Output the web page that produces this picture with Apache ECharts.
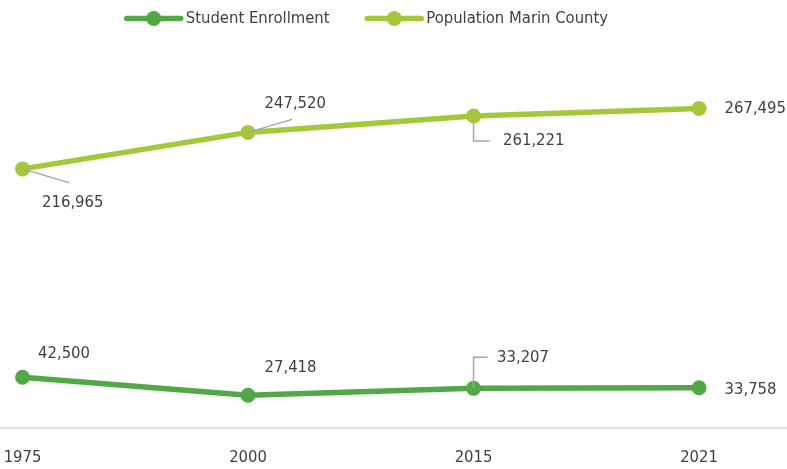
<!DOCTYPE html>
<html>
<head>
<meta charset="utf-8">
<script src="https://cdn.jsdelivr.net/npm/echarts@6/dist/echarts.min.js"></script>
<style>
  html, body { margin: 0; padding: 0; background: #fff; }
  #chart { width: 787px; height: 469px; }
</style>
</head>
<body>
<div id="chart"></div>
<script>
// data
const years = ['1975', '2000', '2015', '2021'];
const enrollment = [42500, 27418, 33207, 33758];
const population = [216965, 247520, 261221, 267495];

// label placement (offsets from the default "right" spot), px
const popLabelShift = [[12, 34], [9, -29], [22, 25], [18, 0]];
const enrLabelShift = [[8, -24], [9, -28], [16, -31], [18, 2]];
// leader lines, relative to the point, px
const popLeaders = [[[0, 0], [47, 14]], [[0, 0], [44, -13]], [[0, 0], [0, 25], [16, 25]], null];
const enrLeaders = [null, null, [[0, 0], [0, -31], [14, -31]], null];

const font = "'DejaVu Sans Condensed', 'Liberation Sans Narrow', sans-serif";
const fontSize = 16.5;
const textColor = '#404040';
const darkGreen = '#52a846';
const lightGreen = '#a5c83a';

const chart = echarts.init(document.getElementById('chart'));

function lineSeries(name, values, color, shifts) {
  return {
    name: name,
    type: 'line',
    data: values.map((v, i) => [i, v]),
    symbol: 'circle',
    symbolSize: 15,
    lineStyle: { color: color, width: 5.5 },
    itemStyle: { color: color },
    label: {
      show: true,
      position: 'right',
      distance: 0,
      color: textColor,
      fontFamily: font,
      fontSize: fontSize,
      formatter: p => p.value[1].toLocaleString('en-US')
    },
    labelLayout: p => ({ dx: shifts[p.dataIndex][0], dy: shifts[p.dataIndex][1] }),
    z: 2
  };
}

function leaderSeries(values, leaders) {
  return {
    type: 'custom',
    silent: true,
    z: 3,
    data: values.map((v, i) => [i, v]),
    renderItem: (params, api) => {
      const seg = leaders[params.dataIndex];
      if (!seg) return;
      const p = api.coord([api.value(0), api.value(1)]);
      return {
        type: 'polyline',
        shape: { points: seg.map(d => [p[0] + d[0], p[1] + d[1]]) },
        style: { stroke: '#a6a6a6', lineWidth: 1.5, fill: null }
      };
    }
  };
}

chart.setOption({
  animation: false,
  textStyle: { fontFamily: font },
  legend: {
    data: ['Student Enrollment', 'Population Marin County'],
    left: 124,
    top: 10,
    padding: 0,
    itemWidth: 54,
    itemHeight: 19,
    itemGap: 35,
    lineStyle: { width: 5.5, cap: 'round' },
    textStyle: { color: textColor, fontFamily: font, fontSize: fontSize }
  },
  grid: { left: 0, right: 0, top: 10, bottom: 41 },
  xAxis: {
    type: 'value',
    min: -0.1,
    max: 3.39,
    splitLine: { show: false },
    axisTick: { show: false },
    axisLine: { show: true, lineStyle: { color: '#d9d9d9', width: 1.5 } },
    axisLabel: {
      customValues: [0, 1, 2, 3],
      formatter: v => years[Math.round(v)],
      color: textColor,
      fontFamily: font,
      fontSize: fontSize,
      margin: 21
    }
  },
  yAxis: {
    type: 'value',
    min: 0,
    max: 350000,
    show: false,
    splitLine: { show: false }
  },
  series: [
    lineSeries('Student Enrollment', enrollment, darkGreen, enrLabelShift),
    lineSeries('Population Marin County', population, lightGreen, popLabelShift),
    leaderSeries(enrollment, enrLeaders),
    leaderSeries(population, popLeaders)
  ]
});
</script>
</body>
</html>
